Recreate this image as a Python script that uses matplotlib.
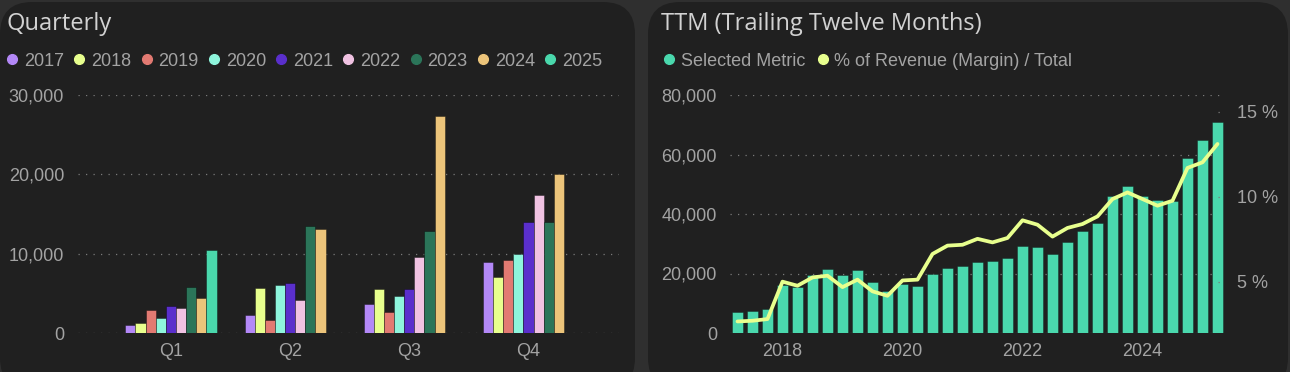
import numpy as np
import matplotlib
matplotlib.use("Agg")
from matplotlib import pyplot as plt
from matplotlib.patches import FancyBboxPatch
from matplotlib.lines import Line2D
from matplotlib.ticker import FuncFormatter

# quarterly values per year (Q1..Q4)
quarters = ["Q1", "Q2", "Q3", "Q4"]
years = ["2017", "2018", "2019", "2020", "2021", "2022", "2023", "2024", "2025"]
v2017 = [1000, 2300, 3600, 9000]
v2018 = [1200, 5700, 5600, 7000]
v2019 = [2900, 1700, 2700, 9200]
v2020 = [1900, 6100, 4700, 9900]
v2021 = [3400, 6300, 5500, 14000]
v2022 = [3100, 4100, 9600, 17400]
v2023 = [5800, 13500, 12800, 14000]
v2024 = [4400, 13100, 27400, 20000]
v2025 = [10500, np.nan, np.nan, np.nan]
year_colors = ["#b388f7", "#e8ff8e", "#e27a72", "#8ef5dc", "#5a2fcc",
               "#f0c2e2", "#2b7559", "#ecc47a", "#4ad8ac"]

# trailing twelve months, 2017Q1 .. 2025Q1
ttm_quarters = [f"{y}Q{q}" for y in range(2017, 2025) for q in range(1, 5)] + ["2025Q1"]
ttm_values = [6900, 7500, 8200, 16000, 15500, 19400, 21500, 19400, 21300, 17200,
              14200, 16600, 15700, 19900, 21900, 22600, 24000, 24200, 25100, 29100,
              28900, 26700, 30700, 34200, 36900, 46200, 49400, 46000, 44600, 44300,
              58700, 64800, 70900]
margin_pct = [2.68, 2.72, 2.82, 5.02, 4.78, 5.27, 5.37, 4.70, 5.14, 4.45,
              4.19, 5.09, 5.14, 6.65, 7.14, 7.19, 7.54, 7.33, 7.59, 8.63,
              8.37, 7.67, 8.18, 8.41, 8.86, 9.88, 10.27, 9.88, 9.49, 9.78,
              11.71, 12.04, 13.12]

W, H = 1290, 372
PANEL = "#202020"
GAP = "#2f2f2f"
TICK = "#a3a3a3"
GRID = "#7a7a7a"
FONT = "Liberation Sans"
TITLE_FONT = "Open Sans"
PX = 0.72  # points per pixel at 100 dpi


def fx(px):
    return px / W


def fy(py):
    return 1 - py / H


def style_axes(ax):
    ax.set_facecolor("none")
    for s in ax.spines.values():
        s.set_visible(False)
    ax.tick_params(length=0, colors=TICK, labelsize=13)
    for lab in ax.get_xticklabels() + ax.get_yticklabels():
        lab.set_fontfamily(FONT)


def dotted_grid(ax):
    ax.grid(axis="y", color=GRID, linestyle=(0, (1, 5)), linewidth=0.9)
    ax.grid(axis="x", visible=False)
    ax.set_axisbelow(True)


fig = plt.figure(figsize=(W / 100, H / 100), dpi=100)
fig.patch.set_facecolor(GAP)

# panel backgrounds
for x0, x1 in [(0, 635), (648, 1288)]:
    fig.patches.append(FancyBboxPatch(
        (fx(x0), fy(390)), fx(x1 - x0), (390 - 2) / H,
        boxstyle="round,pad=0,rounding_size=0.025", transform=fig.transFigure,
        facecolor=PANEL, edgecolor="none", zorder=-5, mutation_aspect=W / H))

fig.text(fx(7), fy(24), "Quarterly", color="#d2d2d2", fontsize=17,
         fontfamily=TITLE_FONT, va="center", ha="left")
fig.text(fx(661), fy(24), "TTM (Trailing Twelve Months)", color="#d2d2d2",
         fontsize=17, fontfamily=TITLE_FONT, va="center", ha="left")

# ---- quarterly grouped bars
ax1 = fig.add_axes([fx(78), fy(333), fx(619 - 78), (333 - 95) / H])
series = [v2017, v2018, v2019, v2020, v2021, v2022, v2023, v2024, v2025]
slot = 0.085
x = np.arange(len(quarters))
for i, (vals, col) in enumerate(zip(series, year_colors)):
    ax1.bar(x + (i - 4) * slot, vals, width=slot, color=col,
            edgecolor=(0, 0, 0, 0.35), linewidth=0.7, zorder=3)
ax1.set_xlim(-0.78, 3.76)
ax1.set_ylim(0, 30000)
ax1.set_yticks([0, 10000, 20000, 30000])
ax1.yaxis.set_major_formatter(FuncFormatter(lambda v, p: f"{v:,.0f}"))
ax1.set_xticks(x)
ax1.set_xticklabels(quarters)
ax1.tick_params(axis="y", pad=14 * PX)
ax1.tick_params(axis="x", pad=10 * PX)
dotted_grid(ax1)
style_axes(ax1)

handles = [Line2D([], [], marker="o", linestyle="", markersize=7,
                  markerfacecolor=c, markeredgecolor=c) for c in year_colors]
fig.legend(handles, years, loc="center left", bbox_to_anchor=(fx(6), fy(61)),
           bbox_transform=fig.transFigure, ncol=9, frameon=False,
           prop={"family": FONT, "size": 13}, labelcolor=TICK,
           handlelength=0.7, handletextpad=0.3, columnspacing=0.5,
           borderpad=0, borderaxespad=0)

# ---- TTM bars + margin line
ax2 = fig.add_axes([fx(730), fy(333), fx(1225 - 730), (333 - 95) / H])
tx = [int(q[:4]) + int(q[-1]) / 4 for q in ttm_quarters]
ax2.bar(tx, ttm_values, width=0.195, color="#4ad8ad",
        edgecolor=(0, 0, 0, 0.3), linewidth=0.7, zorder=3)
ax2.set_xlim(tx[0] - 0.125, tx[-1] + 0.125)
ax2.set_ylim(0, 80000)
ax2.set_yticks([0, 20000, 40000, 60000, 80000])
ax2.yaxis.set_major_formatter(FuncFormatter(lambda v, p: f"{v:,.0f}"))
ax2.set_xticks([2018, 2020, 2022, 2024])
ax2.set_xticklabels(["2018", "2020", "2022", "2024"])
ax2.tick_params(axis="y", pad=13 * PX)
ax2.tick_params(axis="x", pad=10 * PX)
dotted_grid(ax2)
style_axes(ax2)

ax3 = ax2.twinx()
ax3.plot(tx, margin_pct, color="#e8ff8e", linewidth=2.7,
         solid_joinstyle="round", solid_capstyle="round", zorder=4)
ax3.set_ylim(2, 16)
ax3.set_yticks([5, 10, 15])
ax3.set_yticklabels(["5 %", "10 %", "15 %"])
ax3.tick_params(axis="y", pad=12 * PX)
for v in [5, 10, 15]:
    ax3.axhline(v, xmin=0.985, xmax=1.0, color=GRID,
                linestyle=(0, (1, 5)), linewidth=0.9)
style_axes(ax3)

handles2 = [Line2D([], [], marker="o", linestyle="", markersize=7,
                   markerfacecolor=c, markeredgecolor=c)
            for c in ["#4ad8ad", "#e8ff8e"]]
fig.legend(handles2, ["Selected Metric", "% of Revenue (Margin) / Total"],
           loc="center left", bbox_to_anchor=(fx(663), fy(61)),
           bbox_transform=fig.transFigure, ncol=2, frameon=False,
           prop={"family": FONT, "size": 13}, labelcolor=TICK,
           handlelength=0.7, handletextpad=0.3, columnspacing=0.6,
           borderpad=0, borderaxespad=0)

fig.savefig("out.png", dpi=100, facecolor=fig.get_facecolor())
